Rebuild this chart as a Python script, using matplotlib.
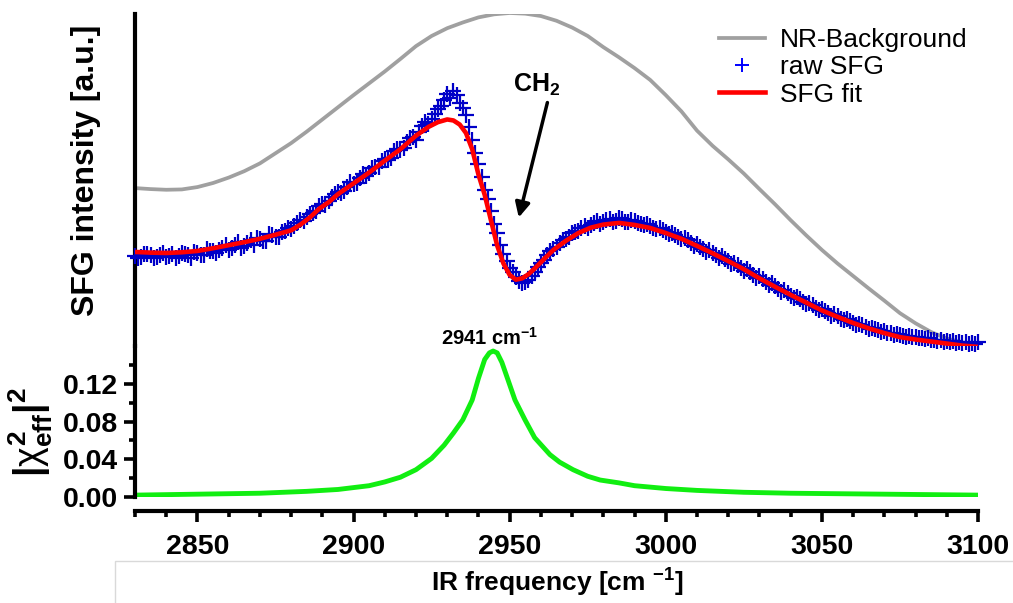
import numpy as np
import matplotlib
matplotlib.use('Agg')
import matplotlib.pyplot as plt
from matplotlib.patches import Rectangle

plt.rcParams['font.family'] = ['Liberation Sans', 'DejaVu Sans']
plt.rcParams['mathtext.fontset'] = 'custom'
plt.rcParams['mathtext.rm'] = 'Liberation Sans'
plt.rcParams['mathtext.it'] = 'Liberation Sans'
plt.rcParams['mathtext.bf'] = 'Liberation Sans:bold'

# NR background (a.u.)
bg_x = [2830, 2835, 2840, 2845, 2850, 2855, 2860, 2865, 2870, 2875,
        2880, 2885, 2890, 2895, 2900, 2905, 2910, 2915, 2920, 2925,
        2930, 2935, 2940, 2945, 2950, 2955, 2960, 2965, 2970, 2975,
        2980, 2985, 2990, 2995, 3000, 3005, 3010, 3015, 3020, 3025,
        3030, 3035, 3040, 3045, 3050, 3055, 3060, 3065, 3070, 3075,
        3080, 3085, 3090, 3095, 3100]
bg_y = [0.485, 0.482, 0.480, 0.481, 0.488, 0.500, 0.516, 0.535, 0.558, 0.588,
        0.618, 0.652, 0.688, 0.724, 0.760, 0.795, 0.830, 0.867, 0.905, 0.935,
        0.958, 0.975, 0.990, 0.999, 1.003, 1.001, 0.994, 0.980, 0.960, 0.935,
        0.902, 0.872, 0.840, 0.805, 0.760, 0.712, 0.655, 0.610, 0.570, 0.528,
        0.482, 0.437, 0.390, 0.345, 0.302, 0.262, 0.225, 0.188, 0.152, 0.115,
        0.085, 0.059, 0.040, 0.028, 0.020]

# SFG fit (a.u.)
fit_x = [2830, 2835, 2840, 2845, 2850, 2855, 2860, 2865, 2870, 2875,
         2880, 2883, 2886, 2889, 2892, 2895, 2900, 2905, 2910, 2915,
         2920, 2924, 2927, 2930, 2932, 2934, 2936, 2938, 2940, 2942,
         2944, 2946, 2948, 2950, 2952, 2954, 2956, 2958, 2961, 2964,
         2968, 2972, 2976, 2980, 2985, 2990, 2995, 3000, 3005, 3010,
         3015, 3020, 3025, 3030, 3035, 3040, 3045, 3050, 3055, 3060,
         3065, 3070, 3075, 3080, 3085, 3090, 3095, 3100]
fit_y = [0.296, 0.294, 0.293, 0.295, 0.299, 0.307, 0.316, 0.325, 0.335, 0.347,
         0.360, 0.377, 0.398, 0.424, 0.443, 0.467, 0.499, 0.531, 0.566, 0.600,
         0.640, 0.666, 0.680, 0.688, 0.685, 0.673, 0.648, 0.600, 0.525, 0.465,
         0.390, 0.315, 0.262, 0.228, 0.214, 0.218, 0.230, 0.247, 0.275, 0.302,
         0.329, 0.352, 0.368, 0.377, 0.382, 0.376, 0.367, 0.352, 0.335, 0.314,
         0.292, 0.269, 0.245, 0.218, 0.193, 0.169, 0.146, 0.123, 0.104, 0.086,
         0.070, 0.056, 0.044, 0.037, 0.031, 0.025, 0.019, 0.015]

# raw SFG (a.u.), even wavenumbers 2830..3100
raw_x_even = np.arange(2830, 3101, 2)
raw_y_even = [0.285, 0.282, 0.290, 0.278, 0.286, 0.281, 0.289, 0.283, 0.291, 0.279,
              0.293, 0.288, 0.300, 0.294, 0.309, 0.301, 0.316, 0.309, 0.322, 0.318,
              0.334, 0.327, 0.346, 0.341, 0.358, 0.365, 0.381, 0.388, 0.409, 0.418,
              0.439, 0.446, 0.468, 0.470, 0.489, 0.497, 0.516, 0.521, 0.545, 0.548,
              0.572, 0.575, 0.601, 0.604, 0.632, 0.628, 0.668, 0.676, 0.705, 0.728,
              0.762, 0.772, 0.738, 0.702, 0.628, 0.556, 0.478, 0.418, 0.352, 0.290,
              0.248, 0.221, 0.203, 0.214, 0.238, 0.262, 0.288, 0.306, 0.323, 0.334,
              0.351, 0.359, 0.374, 0.377, 0.387, 0.384, 0.393, 0.389, 0.394, 0.386,
              0.388, 0.378, 0.380, 0.368, 0.367, 0.355, 0.352, 0.340, 0.338, 0.322,
              0.320, 0.304, 0.301, 0.286, 0.283, 0.268, 0.264, 0.249, 0.245, 0.228,
              0.224, 0.206, 0.203, 0.186, 0.183, 0.167, 0.164, 0.148, 0.146, 0.131,
              0.128, 0.114, 0.112, 0.099, 0.097, 0.086, 0.084, 0.074, 0.071, 0.064,
              0.061, 0.055, 0.053, 0.048, 0.046, 0.044, 0.041, 0.040, 0.037, 0.036,
              0.033, 0.034, 0.030, 0.031, 0.028, 0.030]
# raw SFG (a.u.), odd wavenumbers 2831..3099
raw_x_odd = np.arange(2831, 3100, 2)
raw_y_odd = [0.279, 0.291, 0.286, 0.281, 0.294, 0.284, 0.278, 0.292, 0.286, 0.296,
             0.287, 0.306, 0.299, 0.303, 0.318, 0.309, 0.326, 0.315, 0.330, 0.337,
             0.329, 0.348, 0.339, 0.355, 0.366, 0.372, 0.392, 0.398, 0.412, 0.431,
             0.436, 0.458, 0.472, 0.476, 0.502, 0.500, 0.527, 0.530, 0.548, 0.565,
             0.567, 0.594, 0.598, 0.622, 0.636, 0.652, 0.680, 0.688, 0.718, 0.745,
             0.752, 0.760, 0.722, 0.665, 0.590, 0.519, 0.452, 0.380, 0.318, 0.268,
             0.236, 0.210, 0.208, 0.226, 0.252, 0.272, 0.299, 0.312, 0.331, 0.341,
             0.356, 0.368, 0.368, 0.382, 0.378, 0.390, 0.384, 0.396, 0.385, 0.391,
             0.381, 0.377, 0.374, 0.364, 0.362, 0.349, 0.346, 0.333, 0.330, 0.314,
             0.312, 0.296, 0.294, 0.279, 0.276, 0.261, 0.258, 0.241, 0.238, 0.219,
             0.216, 0.197, 0.195, 0.178, 0.175, 0.159, 0.157, 0.141, 0.139, 0.124,
             0.121, 0.108, 0.106, 0.094, 0.092, 0.081, 0.079, 0.069, 0.067, 0.060,
             0.057, 0.051, 0.049, 0.045, 0.043, 0.040, 0.038, 0.035, 0.034, 0.031,
             0.029, 0.028, 0.026, 0.025, 0.023]

# |chi2_eff|^2
chi_x = [2830, 2850, 2870, 2885, 2895, 2905, 2910, 2915, 2920, 2925,
         2929, 2932, 2935, 2938, 2940, 2942, 2943.5, 2944.7, 2946, 2947.5,
         2949.5, 2951.7, 2954.9, 2958, 2962.9, 2966, 2970.3, 2975, 2979, 2985,
         2990, 3000, 3010, 3025, 3040, 3070, 3100]
chi_y = [0.002, 0.003, 0.004, 0.006, 0.008, 0.012, 0.016, 0.021, 0.029, 0.041,
         0.055, 0.068, 0.082, 0.103, 0.126, 0.146, 0.153, 0.155, 0.153, 0.143,
         0.124, 0.103, 0.082, 0.063, 0.045, 0.037, 0.029, 0.022, 0.018, 0.015,
         0.012, 0.009, 0.007, 0.005, 0.004, 0.003, 0.002]

raw_x = np.concatenate([raw_x_even, raw_x_odd])
raw_y = np.concatenate([raw_y_even, raw_y_odd])

fig = plt.figure(figsize=(10.13, 6.03), dpi=100)
L, W = 135 / 1013, 843 / 1013
ax2 = fig.add_axes([L, 106 / 603, W, 150.7 / 603])
ax1 = fig.add_axes([L, 256.7 / 603, W, 332.3 / 603])

# top panel
ax1.plot(bg_x, bg_y, color='#A0A0A0', lw=2.7, label='NR-Background', zorder=2)
ax1.plot(raw_x, raw_y, ls='none', marker='+', ms=11, mew=1.6, color='#0000C8',
         label='raw SFG', zorder=3, clip_on=False)
ax1.plot(fit_x, fit_y, color='#FF0000', lw=3.3, label='SFG fit', zorder=4)
ax1.set_xlim(2830, 3100)
ax1.set_ylim(0.0169, 1.0)
for s in ['top', 'right', 'bottom']:
    ax1.spines[s].set_visible(False)
ax1.spines['left'].set_linewidth(3)
ax1.set_xticks([])
ax1.set_yticks([])
ax1.patch.set_alpha(0)

ax1.annotate('', xy=(2952.7, 0.39), xytext=(2962.3, 0.746),
             arrowprops=dict(arrowstyle='-|>', lw=2.5, color='black',
                             mutation_scale=22))
ax1.text(2958.8, 0.79, r'CH$_{\mathbf{2}}$', ha='center', va='center',
         fontsize=18, fontweight='bold')

leg = ax1.legend(loc='upper left', bbox_to_anchor=(0.697, 0.975),
                 bbox_transform=fig.transFigure, frameon=False, fontsize=19,
                 handlelength=1.75, handletextpad=0.55, labelspacing=0.12,
                 borderpad=0)
leg.legend_handles[1].set_color('#0000FF')
leg.legend_handles[1].set_markersize(10)
leg.legend_handles[1].set_markeredgewidth(1.4)

# bottom panel
ax2.plot(chi_x, chi_y, color='#11EE11', lw=3.5)
ax2.set_xlim(2830, 3100)
ax2.set_ylim(0, 0.16)
ax2.set_xticks([2850, 2900, 2950, 3000, 3050, 3100])
ax2.set_xticks(np.arange(2830, 3101, 10), minor=True)
ax2.set_yticks([0.0, 0.04, 0.08, 0.12])
ax2.set_yticks([0.02, 0.06, 0.10, 0.14], minor=True)
ax2.set_yticklabels(['0.00', '0.04', '0.08', '0.12'])
for s in ['top', 'right']:
    ax2.spines[s].set_visible(False)
ax2.spines['left'].set_linewidth(3)
ax2.spines['bottom'].set_linewidth(3)
ax2.spines['bottom'].set_position(('outward', 10))
ax2.tick_params(axis='both', which='major', length=8, width=2.6,
                labelsize=20.5)
ax2.tick_params(axis='both', which='minor', length=4.5, width=2.6)
ax2.tick_params(axis='x', which='major', pad=9)
ax2.tick_params(axis='y', which='major', pad=4)
for lab in ax2.get_xticklabels() + ax2.get_yticklabels():
    lab.set_fontweight('bold')
ax2.patch.set_alpha(0)

ax2.text(2943.7, 0.169, r'2941 cm$^{\mathbf{-1}}$', ha='center', va='center',
         fontsize=14.5, fontweight='bold', clip_on=False)

fig.text(86 / 1013, 1 - 170 / 603, 'SFG intensity [a.u.]', rotation=90,
         ha='center', va='center', fontsize=23, fontweight='bold')
fig.text(31 / 1013, 1 - 432 / 603,
         r'$\mathbf{|}\chi^{\mathbf{2}}_{\mathbf{eff}}\mathbf{|}^{\mathbf{2}}$',
         rotation=90, ha='center', va='center', fontsize=27)

fig.add_artist(Rectangle((115 / 1013, -0.05), 1.0, 42 / 603 + 0.05,
                         transform=fig.transFigure, fill=False,
                         edgecolor='#D9D9D9', lw=1))
fig.text(557 / 1013, 1 - 583 / 603, r'IR frequency [cm $^{\mathbf{-1}}$]',
         ha='center', va='center', fontsize=19, fontweight='bold')

fig.savefig('out.png', dpi=100)
